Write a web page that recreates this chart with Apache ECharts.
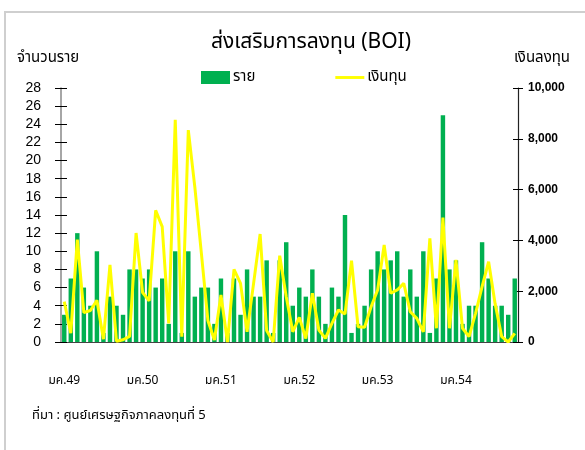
<!DOCTYPE html>
<html>
<head>
<meta charset="utf-8">
<script src="https://cdn.jsdelivr.net/npm/echarts@6/dist/echarts.min.js"></script>
<style>
  html, body { margin: 0; padding: 0; background: #fff; }
  #chart { width: 585px; height: 450px; }
</style>
</head>
<body>
<div id="chart"></div>
<script>
// เดือน ม.ค.49 - ต.ค.54
var yearLabels = ['มค.49', 'มค.50', 'มค.51', 'มค.52', 'มค.53', 'มค.54']
var months = []
yearLabels.forEach(function (y) {
  for (var m = 0; m < 12; m++) months.push(m === 0 ? y : y.replace('มค', 'm' + (m + 1)))
})
months = months.slice(0, 70)

// จำนวนราย
var cases = [
  3, 7, 12, 6, 4, 10, 1, 5, 4, 3, 8, 8,
  7, 8, 6, 7, 2, 10, 1, 10, 5, 6, 6, 2,
  7, 1, 7, 3, 8, 5, 5, 9, 1, 9, 11, 4,
  6, 5, 8, 5, 2, 6, 5, 14, 1, 2, 4, 8,
  10, 8, 9, 10, 5, 8, 5, 10, 1, 7, 25, 8,
  9, 2, 4, 4, 11, 7, 4, 4, 3, 7
]
// เงินทุน (ล้านบาท)
var invest = [
  1590, 350, 4030, 1160, 1240, 1640, 110, 3040, 30, 90, 220, 4290,
  1950, 1620, 5180, 4540, 735, 8750, 210, 8340, 6100, 3500, 850, 80,
  1850, 0, 2860, 2310, 400, 2310, 4250, 450, 0, 3400, 1780, 400,
  970, 140, 1920, 470, 140, 730, 1260, 1100, 3200, 600, 580, 1390,
  2050, 3820, 1920, 2050, 2310, 1190, 930, 400, 4080, 540, 4900, 540,
  3230, 540, 210, 1130, 2180, 3160, 1500, 210, 0, 340
]
var leftTicks = [0, 28, 2]
var rightTicks = [0, 10000, 2000]

var thaiFont = "'Noto Sans Thai', 'Liberation Sans Narrow', 'Liberation Sans', sans-serif"
var numFont = "'Liberation Sans Narrow', 'Liberation Sans', sans-serif"

var chart = echarts.init(document.getElementById('chart'))

var yCommon = {
  type: 'value',
  splitLine: { show: false }
}

chart.setOption({
  animation: false,
  backgroundColor: '#fff',
  title: {
    text: 'ส่งเสริมการลงทุน (BOI)',
    left: 306,
    top: 28,
    textAlign: 'center',
    textStyle: { fontFamily: thaiFont, fontSize: 21, fontWeight: 'normal', color: '#000' }
  },
  legend: {
    left: 201,
    top: 70,
    padding: 0,
    itemWidth: 29,
    itemHeight: 13,
    itemGap: 80,
    textStyle: { fontFamily: thaiFont, fontSize: 15, color: '#000', padding: [0, 0, 0, -2] },
    data: [
      { name: 'ราย', icon: 'rect' },
      { name: 'เงินทุน', icon: 'path://M0,0 H30 V3 H0 Z', itemStyle: { color: '#ffff00' } }
    ]
  },
  grid: { left: 61, right: 67, top: 88, bottom: 108 },
  xAxis: {
    type: 'category',
    data: months,
    boundaryGap: true,
    axisLine: { lineStyle: { color: '#444', width: 1 } },
    axisTick: { interval: 11, length: 8, lineStyle: { color: '#333' } },
    axisLabel: {
      interval: 11,
      margin: 34,
      fontFamily: thaiFont,
      fontSize: 12,
      color: '#000'
    }
  },
  yAxis: [
    Object.assign({}, yCommon, {
      min: leftTicks[0], max: leftTicks[1], interval: leftTicks[2],
      position: 'left',
      axisLine: { show: true, lineStyle: { color: '#888', width: 1.5 } },
      axisTick: { show: true, length: 6, lineStyle: { color: '#000' } },
      axisLabel: { margin: 20, fontFamily: numFont, fontSize: 14, color: '#000' }
    }),
    Object.assign({}, yCommon, {
      min: leftTicks[0], max: leftTicks[1], interval: leftTicks[2],
      position: 'left',
      axisLine: { show: false },
      axisTick: { show: true, inside: true, length: 6, lineStyle: { color: '#000' } },
      axisLabel: { show: false }
    }),
    Object.assign({}, yCommon, {
      min: rightTicks[0], max: rightTicks[1], interval: rightTicks[2],
      position: 'right',
      axisLine: { show: true, lineStyle: { color: '#222', width: 1.2 } },
      axisTick: { show: true, length: 5, lineStyle: { color: '#000' } },
      axisLabel: {
        margin: 10,
        fontFamily: numFont,
        fontSize: 12,
        fontWeight: 'bold',
        color: '#000',
        formatter: function (v) { return v.toLocaleString('en-US') }
      }
    }),
    Object.assign({}, yCommon, {
      min: rightTicks[0], max: rightTicks[1], interval: rightTicks[2],
      position: 'right',
      axisLine: { show: false },
      axisTick: { show: true, inside: true, length: 5, lineStyle: { color: '#000' } },
      axisLabel: { show: false }
    })
  ],
  graphic: [
    {
      type: 'rect', silent: true,
      shape: { x: 5, y: 12, width: 620, height: 480 },
      style: { fill: 'none', stroke: '#cfcfcf', lineWidth: 2 }
    },
    {
      type: 'text', left: 17, top: 51,
      style: { text: 'จำนวนราย', font: '15px ' + thaiFont, fill: '#000' }
    },
    {
      type: 'text', left: 514, top: 51,
      style: { text: 'เงินลงทุน', font: '15px ' + thaiFont, fill: '#000' }
    },
    {
      type: 'text', left: 32, top: 410,
      style: { text: 'ที่มา : ศูนย์เศรษฐกิจภาคลงทุนที่ 5', font: '13px ' + thaiFont, fill: '#000' }
    }
  ],
  series: [
    {
      name: 'ราย',
      type: 'bar',
      yAxisIndex: 0,
      data: cases,
      barCategoryGap: '32%',
      itemStyle: { color: '#00b050' }
    },
    {
      name: 'เงินทุน',
      type: 'line',
      yAxisIndex: 2,
      data: invest,
      symbol: 'none',
      lineStyle: { color: '#ffff00', width: 3 },
      itemStyle: { color: '#ffff00' }
    }
  ]
})
</script>
</body>
</html>
